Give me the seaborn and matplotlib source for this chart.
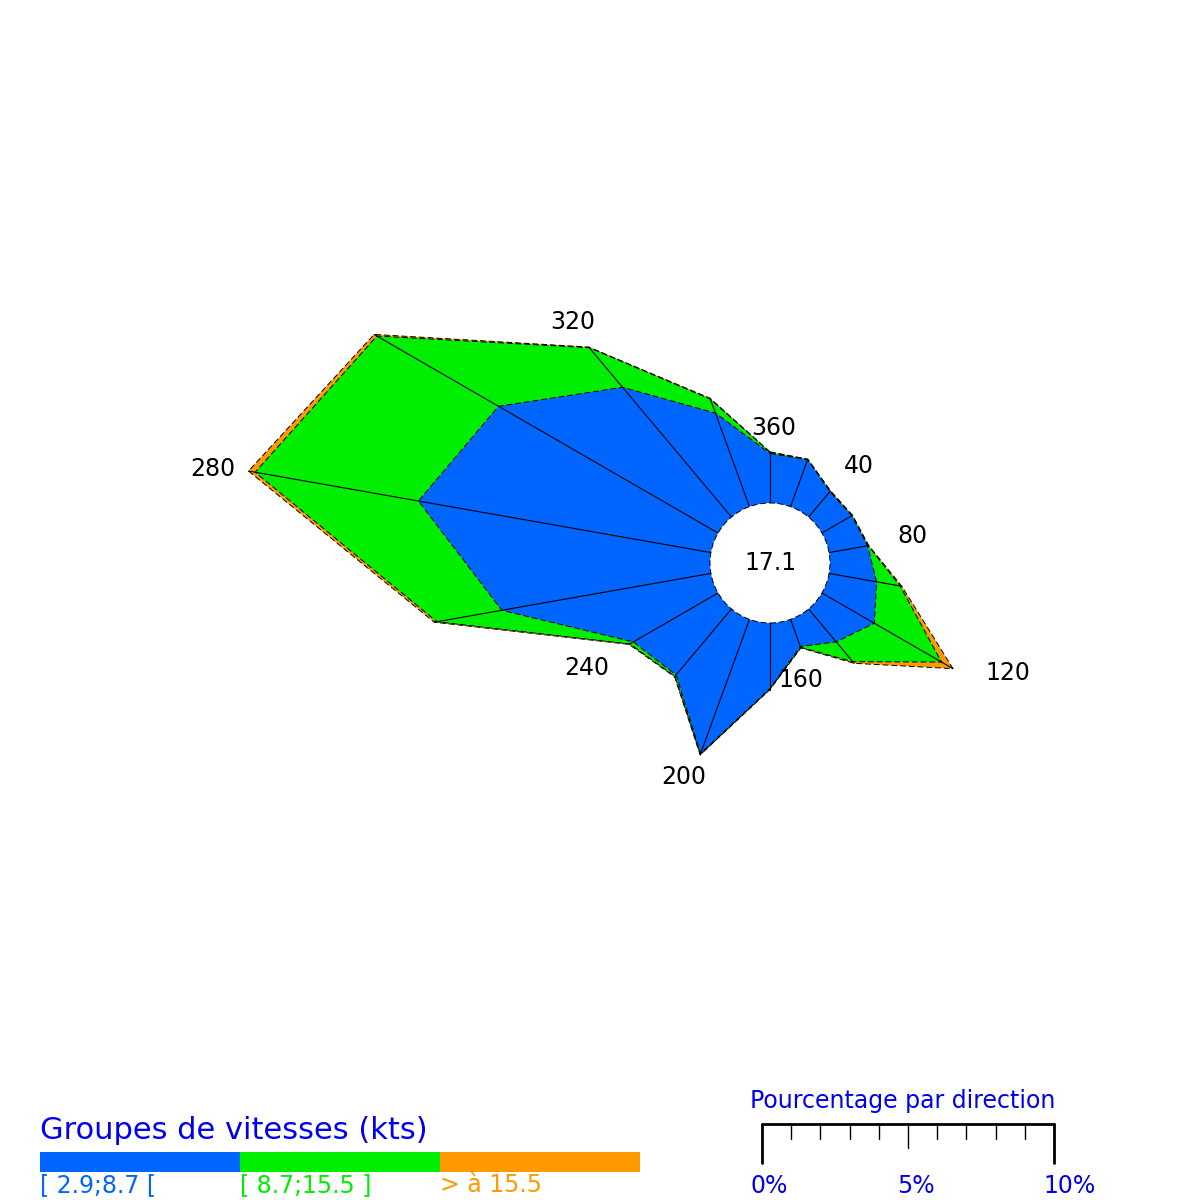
import numpy as np
import pandas as pd
import matplotlib
matplotlib.use("Agg")
import matplotlib.pyplot as plt
import seaborn as sns

# rose des vents : pourcentage par direction et par groupe de vitesses
directions = [0, 20, 40, 60, 80, 100, 120, 140, 160, 180, 200, 220, 240, 260, 280, 300, 320, 340]
pct_low = [1.70, 1.71, 1.14, 1.18, 1.34, 1.65, 2.07, 1.47, 0.99, 2.24, 4.89, 2.95, 3.35, 7.27, 10.17, 8.68, 5.80, 3.41]
pct_mid = [0.04, 0.01, 0.02, 0.02, 0.02, 0.82, 2.66, 0.89, 0.03, 0.02, 0.03, 0.06, 0.14, 2.26, 5.68, 4.81, 1.77, 0.51]
pct_high = [0.01, 0.01, 0.01, 0.01, 0.02, 0.06, 0.45, 0.07, 0.02, 0.02, 0.02, 0.02, 0.03, 0.09, 0.23, 0.11, 0.03, 0.03]
calm = 17.1

label_dirs = [0, 40, 80, 120, 160, 200, 240, 280, 320]
label_texts = ["360", "40", "80", "120", "160", "200", "240", "280", "320"]

group_labels = ["[ 2.9;8.7 [", "[ 8.7;15.5 ]", "> à 15.5"]
group_colors = ["#0066ff", "#00ee00", "#ff9900"]
scale_ticks = [0, 5, 10]
scale_labels = ["0%", "5%", "10%"]

sns.set_theme(style="white")
plt.rcParams["font.family"] = ["DejaVu Sans"]

PX = 29.2          # pixels pour 1 %
R0 = 60 / PX       # rayon du cercle central (calme)
CX, CY = 770, 563  # centre en pixels

# décalage des étiquettes de direction par rapport au sommet (pixels)
label_nudge = [(4, -24), (28, -25), (44, -10), (55, 4), (0, 32),
               (-16, 22), (-42, 24), (-36, -2), (-16, -25)]

fig = plt.figure(figsize=(12, 12), dpi=100)
ax = fig.add_axes([0, 0, 1, 1])
ax.set_xlim(-CX / PX, (1200 - CX) / PX)
ax.set_ylim(-(1200 - CY) / PX, CY / PX)
ax.set_aspect("equal")

theta = np.deg2rad(directions)
cum1 = np.array(pct_low)
cum2 = cum1 + np.array(pct_mid)
cum3 = cum2 + np.array(pct_high)


def xy(p):
    r = R0 + np.asarray(p)
    return r * np.sin(theta), r * np.cos(theta)


for cum, col in zip([cum3, cum2, cum1], group_colors[::-1]):
    x, y = xy(cum)
    ax.fill(x, y, color=col, lw=0, zorder=1)
    ax.plot(np.append(x, x[0]), np.append(y, y[0]), color="black", lw=0.7,
            ls=(0, (6, 3)), zorder=2)

# rayons du cercle jusqu'au total
xo, yo = xy(cum3)
xi, yi = xy(np.zeros(len(directions)))
rays = pd.DataFrame({
    "x": np.concatenate([xi, xo]),
    "y": np.concatenate([yi, yo]),
    "dir": directions + directions,
})
sns.lineplot(data=rays, x="x", y="y", units="dir", estimator=None, sort=False,
             color="black", linewidth=0.8, legend=False, ax=ax, zorder=3)

ax.add_patch(plt.Circle((0, 0), R0, facecolor="white", edgecolor="black",
                        lw=0.7, ls=(0, (6, 3)), zorder=4))
ax.text(0, 0, f"{calm:.1f}", ha="center", va="center", fontsize=17, color="black", zorder=5)

for d, t, (nx, ny) in zip(label_dirs, label_texts, label_nudge):
    i = directions.index(d)
    ax.text(xo[i] + nx / PX, yo[i] - ny / PX, t, ha="center", va="center",
            fontsize=17, color="black", zorder=5)
ax.axis("off")

# légende et échelle en pixels
lg = fig.add_axes([0, 0, 1, 1])
lg.set_xlim(0, 1200)
lg.set_ylim(1200, 0)
lg.axis("off")
lg.patch.set_alpha(0)

lg.text(40, 1139, "Groupes de vitesses (kts)", fontsize=22, color="#0000ee", va="baseline")
for i, (lab, col) in enumerate(zip(group_labels, group_colors)):
    lg.barh(1162, 200, left=40 + 200 * i, height=20, color=col, edgecolor="none", linewidth=0)
    lg.text(40 + 200 * i, 1192, lab, fontsize=17, color=col, va="baseline")

x0 = 762
lg.text(750, 1108, "Pourcentage par direction", fontsize=17, color="#0000ee", va="baseline")
lg.plot([x0, x0 + 10 * PX], [1124, 1124], color="black", lw=2)
for k in range(11):
    tx = x0 + k * PX
    if k in (0, 10):
        lg.plot([tx, tx], [1124, 1163], color="black", lw=2)
    elif k == 5:
        lg.plot([tx, tx], [1124, 1148], color="black", lw=1)
    else:
        lg.plot([tx, tx], [1124, 1139], color="black", lw=1)
for v, lab in zip(scale_ticks, scale_labels):
    lg.text(x0 + v * PX - 11, 1193, lab, fontsize=17, color="#0000ee", va="baseline")

fig.savefig("out.png", dpi=100)
